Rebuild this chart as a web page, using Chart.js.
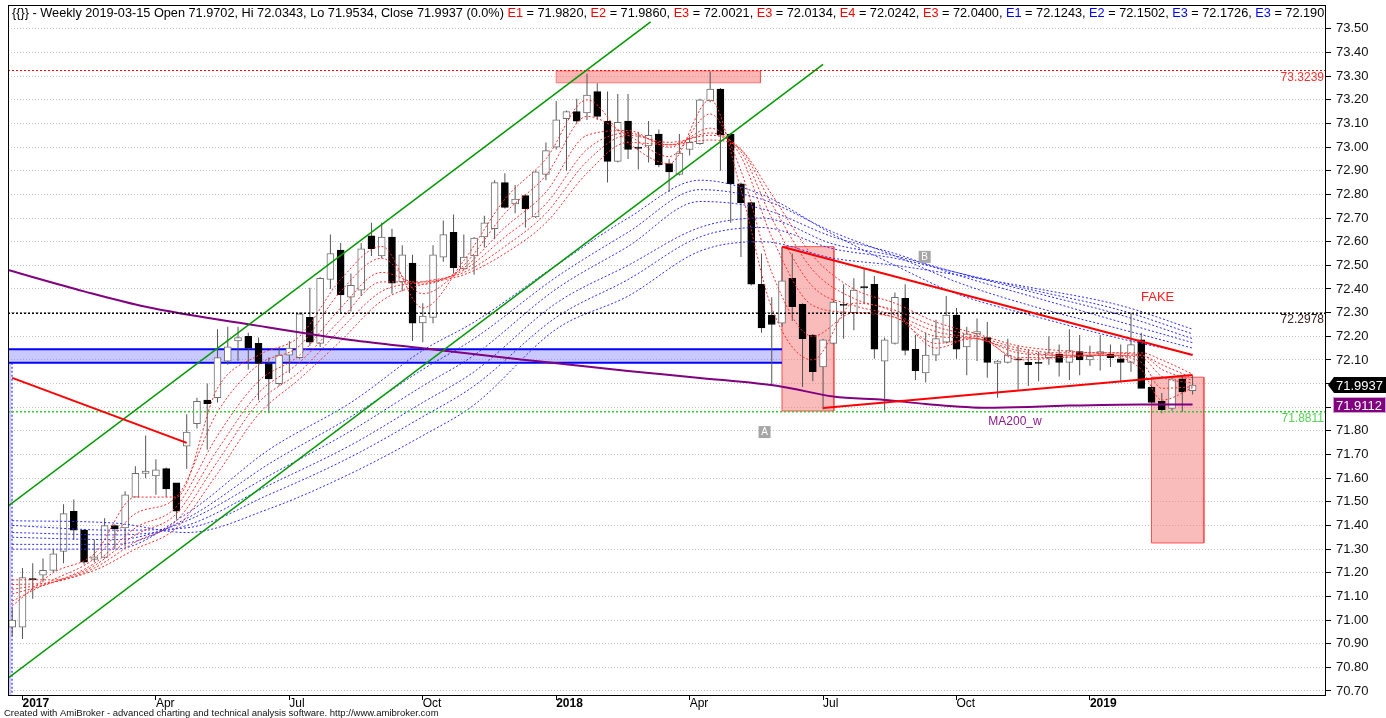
<!DOCTYPE html>
<html>
<head>
<meta charset="utf-8">
<title>Weekly candles</title>
<script src="https://cdn.jsdelivr.net/npm/chart.js@4.4.1/dist/chart.umd.min.js"></script>
<style>
  html, body { margin: 0; padding: 0; background: #fff; }
  #wrap { width: 1386px; height: 718px; position: relative; }
</style>
</head>
<body>
<div id="wrap"><canvas id="priceChart"></canvas></div>
<script>
// weekly bars, bar 0 = 2016-12-30 ... bar 115 = 2019-03-15
const opens = [70.97,70.97,71.175,71.19,71.21,71.29,71.46,71.38,71.256,71.265,71.40,71.39,71.52,71.62,71.61,71.64,71.58,71.735,71.83,71.93,
  71.94,72.095,72.18,72.20,72.17,72.085,72.00,72.12,72.11,72.28,72.17,72.44,72.565,72.365,72.395,72.625,72.54,72.62,72.43,72.51,
  72.257,72.28,72.535,72.64,72.485,72.54,72.62,72.655,72.85,72.76,72.795,72.705,72.885,73.00,73.12,73.15,73.145,73.235,73.11,72.94,
  73.11,73.00,73.005,73.055,72.93,72.885,72.99,73.015,73.195,73.245,73.055,72.845,72.765,72.42,72.29,72.255,72.445,72.335,72.205,72.07,
  72.17,72.335,72.30,72.41,72.42,72.095,72.17,72.36,72.145,72.045,72.12,72.175,72.29,72.155,72.21,72.195,72.085,72.09,72.105,72.09,
  72.09,72.11,72.125,72.09,72.135,72.10,72.125,72.125,72.105,72.09,72.185,71.985,71.925,71.895,72.02,71.9702];
const highs = [71.05,71.22,71.24,71.26,71.30,71.49,71.51,71.385,71.34,71.43,71.405,71.545,71.65,71.78,71.68,71.645,71.58,71.87,71.94,72.00,
  72.23,72.24,72.24,72.215,72.195,72.11,72.155,72.18,72.30,72.405,72.45,72.63,72.595,72.465,72.595,72.68,72.68,72.655,72.585,72.545,
  72.34,72.585,72.69,72.715,72.63,72.62,72.71,72.86,72.89,72.84,72.80,72.90,73.02,73.195,73.155,73.205,73.31,73.27,73.235,73.225,
  73.225,73.065,73.11,73.075,72.95,73.055,73.045,73.205,73.32,73.25,73.06,72.85,72.77,72.55,72.365,72.575,72.55,72.34,72.21,72.19,
  72.35,72.42,72.445,72.49,72.455,72.195,72.385,72.42,72.205,72.215,72.27,72.37,72.32,72.24,72.275,72.26,72.10,72.19,72.16,72.145,
  72.135,72.20,72.165,72.23,72.205,72.16,72.205,72.165,72.165,72.30,72.215,71.99,71.96,72.025,72.03,72.0343];
const lows = [70.93,70.92,71.09,71.16,71.20,71.24,71.34,71.235,71.245,71.26,71.30,71.31,71.52,71.60,71.53,71.52,71.425,71.64,71.81,71.72,
  71.92,72.08,72.095,72.06,71.93,71.875,71.99,72.045,72.105,72.16,72.155,72.40,72.30,72.305,72.37,72.54,72.53,72.38,72.39,72.18,
  72.175,72.255,72.515,72.465,72.48,72.46,72.575,72.61,72.74,72.72,72.66,72.70,72.86,72.99,72.90,73.10,73.115,73.115,72.85,72.935,
  72.95,72.905,72.935,72.915,72.81,72.88,72.965,73.01,73.19,72.90,72.68,72.535,72.415,72.215,71.99,72.24,72.265,71.985,72.01,71.89,
  72.165,72.19,72.225,72.345,72.105,71.885,72.165,72.12,72.015,72.005,72.095,72.17,72.105,72.035,72.095,72.025,71.94,72.085,71.975,71.99,
  72.01,72.08,72.03,72.015,72.035,72.075,72.055,72.07,72.005,72.05,71.98,71.92,71.875,71.885,71.88,71.9534];
const closes = [71.00,71.18,71.17,71.21,71.28,71.45,71.38,71.245,71.267,71.40,71.385,71.53,71.62,71.63,71.635,71.555,71.46,71.795,71.925,71.915,
  72.11,72.155,72.195,72.15,72.085,72.02,72.12,72.15,72.295,72.175,72.445,72.55,72.375,72.415,72.57,72.57,72.62,72.425,72.545,72.255,
  72.285,72.545,72.63,72.49,72.535,72.615,72.68,72.85,72.745,72.78,72.74,72.895,72.985,73.115,73.15,73.11,73.22,73.13,72.94,73.105,
  72.99,72.995,73.05,72.925,72.895,72.975,73.02,73.20,73.245,73.05,72.845,72.765,72.42,72.235,72.25,72.435,72.325,72.19,72.05,72.185,
  72.345,72.33,72.395,72.405,72.145,72.185,72.365,72.14,72.055,72.12,72.19,72.29,72.145,72.21,72.22,72.09,72.095,72.12,72.10,72.08,
  72.085,72.13,72.09,72.14,72.10,72.115,72.135,72.11,72.09,72.165,71.98,71.92,71.89,72.02,71.965,71.9937];

// short EMA ribbon (red), read at anchor bars
const redBars = [0,4,8,12,16,20,24,28,32,36,40,44,48,52,56,60,64,68,71,74,78,82,86,90,94,98,102,106,110,112,115];
const redE1 = [71.06,71.20,71.28,71.52,71.52,71.98,72.12,72.20,72.44,72.58,72.32,72.52,72.78,72.95,73.20,73.02,72.93,73.20,72.82,72.32,72.10,72.34,72.30,72.15,72.20,72.10,72.11,72.12,72.06,71.93,71.982];
const redE2 = [71.08,71.17,71.26,71.45,71.52,71.88,72.08,72.16,72.39,72.53,72.38,72.50,72.72,72.88,73.13,73.05,72.96,73.14,72.90,72.47,72.20,72.30,72.28,72.17,72.19,72.11,72.11,72.12,72.09,71.98,71.986];
const redE3 = [71.11,71.16,71.24,71.39,71.48,71.78,72.01,72.12,72.32,72.47,72.42,72.49,72.66,72.81,73.05,73.07,73.00,73.08,72.96,72.62,72.33,72.30,72.28,72.20,72.19,72.13,72.12,72.12,72.11,72.03,72.002];
const redE4 = [71.13,71.16,71.23,71.36,71.45,71.72,71.96,72.09,72.27,72.43,72.43,72.48,72.62,72.76,72.99,73.06,73.01,73.06,72.98,72.70,72.41,72.33,72.29,72.22,72.19,72.14,72.12,72.12,72.12,72.06,72.013];
const redE5 = [71.15,71.16,71.22,71.33,71.42,71.67,71.92,72.05,72.23,72.39,72.43,72.47,72.58,72.72,72.94,73.05,73.02,73.05,72.99,72.76,72.48,72.36,72.31,72.24,72.20,72.15,72.13,72.13,72.12,72.08,72.024];
const redE6 = [71.17,71.17,71.21,71.30,71.39,71.62,71.87,72.02,72.18,72.35,72.42,72.46,72.55,72.68,72.89,73.02,73.01,73.03,72.99,72.80,72.54,72.40,72.34,72.26,72.21,72.16,72.14,72.13,72.13,72.10,72.040];

// long EMA ribbon (blue)
const blueBars = [0,10,17,25,33,40,45,53,60,67,73,80,86,92,100,108,115];
const blueE1 = [71.30,71.30,71.45,71.72,71.92,72.14,72.26,72.50,72.70,72.86,72.80,72.63,72.50,72.38,72.28,72.19,72.124];
const blueE2 = [71.32,71.32,71.43,71.66,71.86,72.06,72.19,72.45,72.64,72.82,72.78,72.64,72.54,72.43,72.32,72.23,72.150];
const blueE3 = [71.35,71.34,71.42,71.61,71.80,71.99,72.12,72.40,72.58,72.77,72.74,72.62,72.55,72.46,72.36,72.26,72.173];
const blueE4 = [71.37,71.36,71.40,71.57,71.74,71.92,72.05,72.34,72.50,72.66,72.70,72.59,72.54,72.47,72.38,72.29,72.190];
const blueE5 = [71.40,71.38,71.39,71.53,71.69,71.86,71.99,72.28,72.44,72.62,72.66,72.57,72.53,72.47,72.39,72.31,72.21];
const blueE6 = [71.42,71.41,71.37,71.47,71.62,71.78,71.91,72.23,72.37,72.56,72.60,72.53,72.50,72.46,72.40,72.33,72.23];

// 200 week moving average
const maBars = [-0.41,7,13,24,33,40,50,60,67,75,80,85,89,95,99,103,110,115];
const maValues = [72.48,72.39,72.325,72.244,72.184,72.149,72.10,72.053,72.024,71.987,71.945,71.931,71.914,71.898,71.901,71.907,71.912,71.911];

// axes
const yTickLabels = ['70.70','70.80','70.90','71.00','71.10','71.20','71.30','71.40','71.50','71.60','71.70','71.80','71.90','72.00',
  '72.10','72.20','72.30','72.40','72.50','72.60','72.70','72.80','72.90','73.00','73.10','73.20','73.30','73.40','73.50'];
const xTickBars = [1,14,27,40,53,66,79,92,105];
const xTickLabels = ['2017','Apr','Jul','Oct','2018','Apr','Jul','Oct','2019'];

// levels
const levelRed = 73.3239, levelBlack = 72.2978, levelGreen = 71.8811;
const lastClose = 71.9937, lastMa = 71.9112;

const X_MIN = -0.41, X_MAX = 128.0;
const Y_MIN = 70.683, Y_MAX = 73.601;
const FONT = "'Liberation Sans', Arial, sans-serif";

function pts(xs, ys) {
    return xs.map((x, i) => ({ x: x, y: ys[i] }));
}

function lineSet(xs, ys, color, width, dash, order, smooth) {
    return {
        type: "line",
        data: pts(xs, ys),
        borderColor: color,
        borderWidth: width,
        borderDash: dash || [],
        pointRadius: 0,
        fill: false,
        tension: 0,
        cubicInterpolationMode: smooth ? "monotone" : "default",
        order: order
    };
}

// filled box: top edge filled down to the bottom value
function boxFill(x0, x1, top, bottom, color, order) {
    return {
        type: "line",
        data: pts([x0, x1], [top, top]),
        borderWidth: 0,
        borderColor: "rgba(0,0,0,0)",
        backgroundColor: color,
        pointRadius: 0,
        fill: { value: bottom },
        order: order
    };
}

function boxEdge(x0, x1, top, bottom, color, order) {
    return lineSet([x0, x1, x1, x0, x0], [top, top, bottom, bottom, top], color, 1, [], order, false);
}

const isUp = opens.map((o, i) => closes[i] >= o);

const datasets = [
    // background boxes
    boxFill(53.0, 72.9, 73.322, 73.272, "rgba(245,120,120,0.55)", 20),
    boxEdge(53.0, 72.9, 73.322, 73.272, "rgba(255,80,80,0.7)", 19),
    boxFill(75.0, 80.05, 72.579, 71.884, "rgba(245,120,120,0.5)", 20),
    boxEdge(75.0, 80.05, 72.579, 71.884, "#ff5050", 19),
    boxFill(111.0, 116.1, 72.027, 71.326, "rgba(245,120,120,0.5)", 20),
    boxEdge(111.0, 116.1, 72.027, 71.326, "#ff5050", 19),
    boxFill(-0.41, 75.0, 72.145, 72.088, "rgba(120,120,255,0.4)", 20),
    lineSet([-0.41, 75.0], [72.145, 72.145], "#0000ff", 2, [], 18, false),
    lineSet([-0.41, 75.0], [72.088, 72.088], "#0000ff", 2, [], 18, false),
    boxFill(-0.41, -0.1, 72.088, Y_MIN, "rgba(120,120,255,0.4)", 20),
    lineSet([-0.02, -0.02], [72.088, Y_MIN], "#0000ff", 1, [2, 2], 18, false),

    // candles
    {
        type: "bar",
        data: highs.map((h, i) => ({ x: i, y: [lows[i], h] })),
        backgroundColor: "#555555",
        borderWidth: 0,
        barThickness: 1,
        inflateAmount: 0,
        grouped: false,
        order: 12
    },
    {
        type: "bar",
        data: opens.map((o, i) => ({ x: i, y: [Math.min(o, closes[i]), Math.max(o, closes[i])] })),
        backgroundColor: isUp.map(u => u ? "#ffffff" : "#000000"),
        borderColor: isUp.map(u => u ? "#6e6e6e" : "#000000"),
        borderWidth: 1,
        borderSkipped: false,
        barThickness: 7,
        grouped: false,
        order: 11
    },

    // ribbons
    lineSet(blueBars, blueE1, "#2b2bff", 1, [2, 2], 8, true),
    lineSet(blueBars, blueE2, "#2b2bff", 1, [2, 2], 8, true),
    lineSet(blueBars, blueE3, "#2b2bff", 1, [2, 2], 8, true),
    lineSet(blueBars, blueE4, "#2b2bff", 1, [2, 2], 8, true),
    lineSet(blueBars, blueE5, "#2b2bff", 1, [2, 2], 8, true),
    lineSet(blueBars, blueE6, "#2b2bff", 1, [2, 2], 8, true),
    lineSet(redBars, redE1, "#ff2a2a", 1, [2, 2], 7, true),
    lineSet(redBars, redE2, "#ff2a2a", 1, [2, 2], 7, true),
    lineSet(redBars, redE3, "#ff2a2a", 1, [2, 2], 7, true),
    lineSet(redBars, redE4, "#ff2a2a", 1, [2, 2], 7, true),
    lineSet(redBars, redE5, "#ff2a2a", 1, [2, 2], 7, true),
    lineSet(redBars, redE6, "#ff2a2a", 1, [2, 2], 7, true),

    // moving average
    lineSet(maBars, maValues, "#800080", 2, [], 6, true),

    // horizontal levels
    lineSet([X_MIN, X_MAX], [levelRed, levelRed], "#ff0000", 1, [2, 2], 5, false),
    lineSet([X_MIN, X_MAX], [levelBlack, levelBlack], "#000000", 1.5, [2, 2], 5, false),
    lineSet([X_MIN, X_MAX], [levelGreen, levelGreen], "#33cc33", 1.5, [2, 2], 5, false),

    // channel and trend lines
    lineSet([-0.41, 62.2], [71.482, 73.530], "#009900", 1.5, [], 4, false),
    lineSet([-0.41, 79.0], [70.754, 73.350], "#009900", 1.5, [], 4, false),
    lineSet([0, 17.0], [72.024, 71.749], "#ff0000", 2, [], 3, false),
    lineSet([75.0, 115.0], [72.579, 72.121], "#ff0000", 2, [], 3, false),
    lineSet([79.0, 115.0], [71.897, 72.036], "#ff0000", 2, [], 3, false)
];

const headerParts = [
    ["{{}} - Weekly 2019-03-15 Open 71.9702, Hi 72.0343, Lo 71.9534, Close 71.9937 (0.0%) ", "#000"],
    ["E1", "#ff0000"], [" = 71.9820, ", "#000"],
    ["E2", "#ff0000"], [" = 71.9860, ", "#000"],
    ["E3", "#ff0000"], [" = 72.0021, ", "#000"],
    ["E3", "#ff0000"], [" = 72.0134, ", "#000"],
    ["E4", "#ff0000"], [" = 72.0242, ", "#000"],
    ["E3", "#ff0000"], [" = 72.0400, ", "#000"],
    ["E1", "#0000ff"], [" = 72.1243, ", "#000"],
    ["E2", "#0000ff"], [" = 72.1502, ", "#000"],
    ["E3", "#0000ff"], [" = 72.1726, ", "#000"],
    ["E3", "#0000ff"], [" = 72.190", "#000"]
];

const overlayPlugin = {
    id: "overlay",
    afterDatasetsDraw(chart) {
        const ctx = chart.ctx;
        const area = chart.chartArea;
        const xs = chart.scales.x, ys = chart.scales.y;
        ctx.save();

        // level captions on the right edge
        ctx.font = "12px " + FONT;
        ctx.textAlign = "right";
        ctx.textBaseline = "top";
        ctx.fillStyle = "#ff3030";
        ctx.fillText(levelRed.toFixed(4), area.right - 2, ys.getPixelForValue(levelRed) + 1);
        ctx.fillStyle = "#3a2020";
        ctx.fillText(levelBlack.toFixed(4), area.right - 2, ys.getPixelForValue(levelBlack) + 1);
        ctx.fillStyle = "#55d455";
        ctx.fillText(levelGreen.toFixed(4), area.right - 2, ys.getPixelForValue(levelGreen) + 1);

        // text notes
        ctx.textAlign = "center";
        ctx.textBaseline = "middle";
        ctx.font = "13px " + FONT;
        ctx.fillStyle = "#ff2020";
        ctx.fillText("FAKE", xs.getPixelForValue(111.6), ys.getPixelForValue(72.366));
        ctx.font = "12px " + FONT;
        ctx.fillStyle = "#8b1a8b";
        ctx.fillText("MA200_w", xs.getPixelForValue(97.7), ys.getPixelForValue(71.838));

        // point markers A / B
        [["A", 73.3, 71.795], ["B", 88.9, 72.536]].forEach(m => {
            const px = xs.getPixelForValue(m[1]), py = ys.getPixelForValue(m[2]);
            ctx.fillStyle = "#a6a6a6";
            ctx.fillRect(px - 6, py - 6, 12, 12);
            ctx.fillStyle = "#ffffff";
            ctx.font = "10px " + FONT;
            ctx.fillText(m[0], px, py + 0.5);
        });

        // header strip
        ctx.fillStyle = "#ffffff";
        ctx.fillRect(area.left + 1, area.top + 1, area.right - area.left - 2, 15);
        ctx.beginPath();
        ctx.rect(area.left, area.top, area.right - area.left - 2, 20);
        ctx.clip();
        let size = 12;
        ctx.font = size + "px " + FONT;
        const full = headerParts.map(p => p[0]).join("");
        size = size * 1312 / ctx.measureText(full).width;
        ctx.font = size.toFixed(2) + "px " + FONT;
        ctx.textAlign = "left";
        ctx.textBaseline = "alphabetic";
        let tx = 12;
        headerParts.forEach(p => {
            ctx.fillStyle = p[1];
            ctx.fillText(p[0], tx, area.top + 12);
            tx += ctx.measureText(p[0]).width;
        });
        ctx.restore();

        // frame
        ctx.save();
        ctx.strokeStyle = "#000";
        ctx.lineWidth = 1;
        ctx.strokeRect(area.left + 0.5, area.top + 0.5, area.right - area.left - 1, area.bottom - area.top);
        ctx.restore();
    },
    afterDraw(chart) {
        const ctx = chart.ctx;
        const area = chart.chartArea;
        const ys = chart.scales.y;
        ctx.save();
        ctx.font = "13px " + FONT;
        ctx.textBaseline = "middle";
        ctx.textAlign = "left";

        // last close tag
        let py = Math.round(ys.getPixelForValue(lastClose));
        ctx.fillStyle = "#000";
        ctx.beginPath();
        ctx.moveTo(area.right + 2, py);
        ctx.lineTo(area.right + 8, py - 8);
        ctx.lineTo(1386, py - 8);
        ctx.lineTo(1386, py + 8);
        ctx.lineTo(area.right + 8, py + 8);
        ctx.closePath();
        ctx.fill();
        ctx.fillStyle = "#fff";
        ctx.fillText(lastClose.toFixed(4), area.right + 10, py + 1);

        // moving average tag
        py = Math.round(ys.getPixelForValue(lastMa));
        ctx.fillStyle = "#800080";
        ctx.fillRect(area.right + 7, py - 8, 1386 - area.right - 7, 16);
        ctx.strokeStyle = "#d0a0d0";
        ctx.strokeRect(area.right + 7.5, py - 7.5, 1386 - area.right - 8, 15);
        ctx.fillStyle = "#fff";
        ctx.fillText(lastMa.toFixed(4), area.right + 10, py + 1);

        // footer
        ctx.fillStyle = "#111";
        ctx.font = "9.5px " + FONT;
        ctx.textBaseline = "alphabetic";
        ctx.fillText("Created with AmiBroker - advanced charting and technical analysis software. http://www.amibroker.com", 4, 716);
        ctx.restore();
    }
};

function noPadding(axis) {
    axis.paddingTop = 0;
    axis.paddingBottom = 0;
    axis.paddingLeft = 0;
    axis.paddingRight = 0;
}

const chart = new Chart(document.getElementById("priceChart").getContext("2d"), {
    type: "bar",
    data: { datasets: datasets },
    options: {
        responsive: true,
        maintainAspectRatio: false,
        animation: false,
        events: [],
        layout: { padding: { left: 8, top: 5, right: 0, bottom: 0 } },
        plugins: {
            legend: { display: false },
            tooltip: { enabled: false }
        },
        scales: {
            x: {
                type: "linear",
                offset: false,
                min: X_MIN,
                max: X_MAX,
                afterBuildTicks: axis => { axis.ticks = xTickBars.map(v => ({ value: v })); },
                afterFit: axis => { axis.height = 23; noPadding(axis); },
                grid: { offset: false, drawOnChartArea: false, drawTicks: true, tickLength: 5, tickColor: "#000" },
                border: { display: false },
                ticks: {
                    autoSkip: false,
                    maxRotation: 0,
                    align: "start",
                    padding: -4,
                    color: "#000",
                    font: ctx => ({
                        family: FONT,
                        size: 12,
                        weight: /^\d{4}$/.test(xTickLabels[ctx.index]) ? "bold" : "normal"
                    }),
                    callback: (value, index) => xTickLabels[index]
                }
            },
            y: {
                position: "right",
                min: Y_MIN,
                max: Y_MAX,
                afterBuildTicks: axis => { axis.ticks = yTickLabels.map(t => ({ value: parseFloat(t) })); },
                afterFit: axis => { axis.width = 60; noPadding(axis); },
                grid: { color: "#c4c4c4", lineWidth: 1, drawTicks: true, tickLength: 5, tickColor: "#000", tickBorderDash: [] },
                border: { display: false, dash: [1, 2] },
                ticks: {
                    padding: 5,
                    color: "#111",
                    font: { family: FONT, size: 13 },
                    callback: (value, index) => yTickLabels[index]
                }
            }
        }
    },
    plugins: [overlayPlugin]
});
</script>
</body>
</html>
